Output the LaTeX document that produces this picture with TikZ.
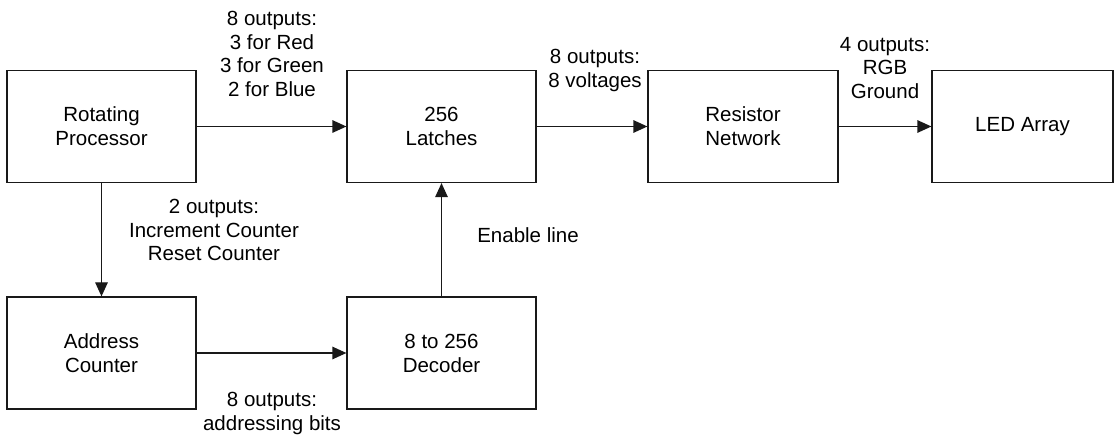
\documentclass[tikz,border=0pt]{standalone}
\usepackage{fontspec}
\setmainfont{Liberation Sans}
\usetikzlibrary{arrows.meta}
\begin{document}
\begin{tikzpicture}[x=1pt,y=-1pt,
  blk/.style={draw=black!90, line width=1.2pt, minimum height=112pt, inner sep=0pt, align=center,
    font=\fontsize{20.5pt}{24pt}\selectfont},
  lbl/.style={anchor=north, inner sep=0pt, align=center, font=\fontsize{20.5pt}{23.5pt}\selectfont},
  conn/.style={line width=1.2pt, draw=black!90, -{Triangle[length=14pt,width=12.5pt]}}]
\useasboundingbox (0,0) rectangle (1115,435);
\node[blk, minimum width=189pt] (proc) at (101.5,126.5) {Rotating\\Processor};
\node[blk, minimum width=189pt] (latch) at (441.5,126.5) {256\\Latches};
\node[blk, minimum width=190pt] (res) at (743,126.5) {Resistor\\Network};
\node[blk, minimum width=181pt] (led) at (1022.5,126.5) {LED Array};
\node[blk, minimum width=189pt] (addr) at (101.5,353) {Address\\Counter};
\node[blk, minimum width=189pt] (dec) at (441.5,353) {8 to 256\\Decoder};
\draw[conn] (proc.east) -- (latch.west);
\draw[conn] (latch.east) -- (res.west);
\draw[conn] (res.east) -- (led.west);
\draw[conn] (proc.south) -- (addr.north);
\draw[conn] (addr.east) -- (dec.west);
\draw[conn] (dec.north) -- (latch.south);
\node[lbl] (l1) at (272,11) {8 outputs:\\3 for Red\\3 for Green\\2 for Blue};
\node[lbl] (l2) at (595,49) {8 outputs:\\8 voltages};
\node[lbl] (l3) at (885,37) {4 outputs:\\RGB\\Ground};
\node[lbl] (l4) at (214,199) {2 outputs:\\Increment Counter\\Reset Counter};
\node[lbl] (l5) at (528,227) {Enable line};
\node[lbl] (l6) at (272,392) {8 outputs:\\addressing bits};
\end{tikzpicture}
\end{document}
